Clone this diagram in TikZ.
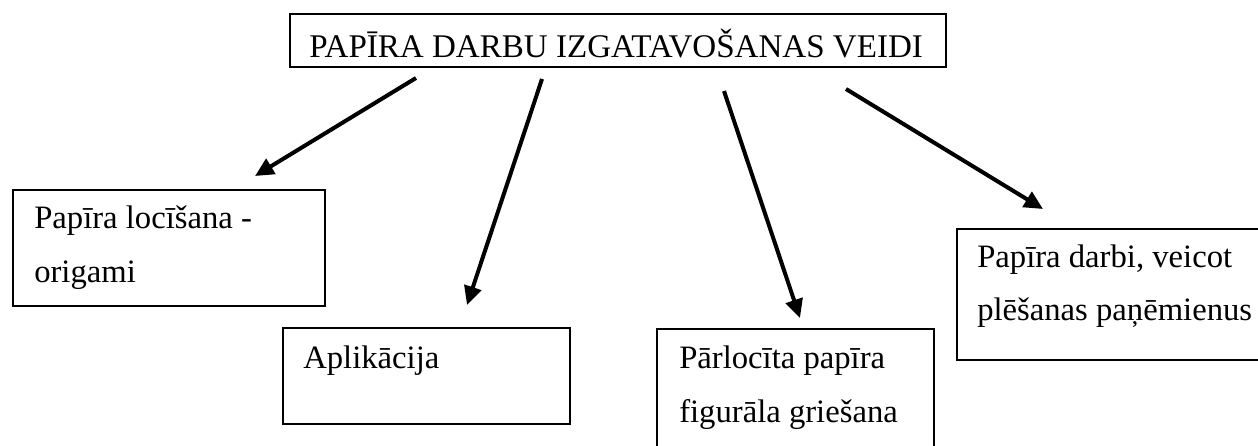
\documentclass[tikz,border=0pt]{standalone}
\usepackage{fontspec}
\setmainfont{Liberation Serif}
\usetikzlibrary{arrows.meta}
\begin{document}
\begin{tikzpicture}[x=0.75pt,y=-0.75pt,
  box/.style={draw=black,line width=1.3pt,inner sep=0pt,anchor=north west},
  txt/.style={anchor=base west,inner sep=0pt,font=\fontsize{24.5}{28}\selectfont},
  arr/.style={line width=3pt,-{Triangle[length=14pt,width=13pt]}}]
\useasboundingbox (0,0) rectangle (1258,446);
\clip (0,0) rectangle (1258,446);
% boxes
\node[box,minimum width=492pt,minimum height=39.75pt] (top) at (289,13) {};
\node[box,minimum width=234pt,minimum height=87pt] (b1) at (12,189) {};
\node[box,minimum width=215.25pt,minimum height=72pt] (b2) at (282,327) {};
\node[box,minimum width=207.75pt,minimum height=114pt] (b3) at (656,328) {};
\node[box,minimum width=258pt,minimum height=98.25pt] (b4) at (956,228) {};
% texts
\node[txt,font=\fontsize{24.8}{28}\selectfont] (t0) at (309,57) {PAPĪRA DARBU IZGATAVOŠANAS VEIDI};
\node[txt] (t1a) at (34,228) {Papīra locīšana -};
\node[txt] (t1b) at (34,282) {origami};
\node[txt] (t2) at (303,368) {Aplikācija};
\node[txt] (t3a) at (679,368) {Pārlocīta papīra};
\node[txt] (t3b) at (679,422) {figurāla griešana};
\node[txt] (t4a) at (977,267) {Papīra darbi, veicot};
\node[txt] (t4b) at (977,320) {plēšanas paņēmienus};
% arrow ends
\coordinate (s1) at (416,78);
\coordinate (e1) at (255,176);
\coordinate (s2) at (542,79);
\coordinate (e2) at (467,305);
\coordinate (s3) at (724,91);
\coordinate (e3) at (800,318);
\coordinate (s4) at (846,89);
\coordinate (e4) at (1043,209);
\draw[arr] (s1) -- (e1);
\draw[arr] (s2) -- (e2);
\draw[arr] (s3) -- (e3);
\draw[arr] (s4) -- (e4);
\end{tikzpicture}
\end{document}
